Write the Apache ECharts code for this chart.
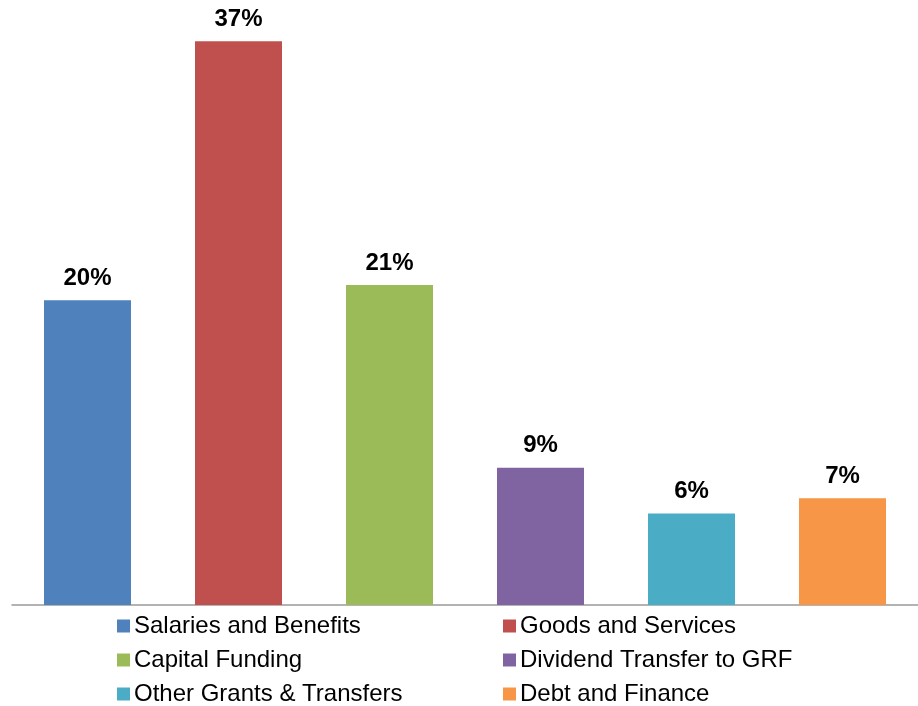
<!DOCTYPE html>
<html>
<head>
<meta charset="utf-8">
<script src="https://cdn.jsdelivr.net/npm/echarts@6/dist/echarts.min.js"></script>
<style>
  html, body { margin: 0; padding: 0; background: #fff; }
  #chart { width: 918px; height: 706px; }
</style>
</head>
<body>
<div id="chart"></div>
<script>
var categories = ['Salaries and Benefits', 'Goods and Services', 'Capital Funding',
  'Dividend Transfer to GRF', 'Other Grants & Transfers', 'Debt and Finance'];
var values = [20, 37, 21, 9, 6, 7];
var colors = ['#4F81BD', '#C0504D', '#9BBB59', '#8064A2', '#4BACC6', '#F79646'];
var leftColumn = ['Salaries and Benefits', 'Capital Funding', 'Other Grants & Transfers'];
var rightColumn = ['Goods and Services', 'Dividend Transfer to GRF', 'Debt and Finance'];

// one series per category so each gets its own legend entry; stacked so they share the slot
var series = categories.map(function (name, i) {
  return {
    name: name,
    type: 'bar',
    stack: 'all',
    barWidth: 87,
    itemStyle: { color: colors[i] },
    label: {
      show: true,
      position: 'top',
      distance: 10,
      formatter: '{c}%',
      fontFamily: 'Liberation Sans, Arial, sans-serif',
      fontSize: 24,
      fontWeight: 'bold',
      color: '#000'
    },
    data: values.map(function (v, j) { return j === i ? v : '-'; })
  };
});

var legendBase = {
  orient: 'vertical',
  top: 614,
  height: 110,
  padding: 0,
  itemWidth: 13,
  itemHeight: 13,
  itemGap: 10,
  icon: 'rect',
  selectedMode: false,
  textStyle: {
    fontFamily: 'Liberation Sans, Arial, sans-serif',
    fontSize: 24,
    lineHeight: 24,
    color: '#000',
    padding: [0, 0, 0, -1]
  }
};

var chart = echarts.init(document.getElementById('chart'));
chart.setOption({
  animation: false,
  grid: { left: 12, right: 0, top: 0, height: 605 },
  legend: [
    Object.assign({}, legendBase, { left: 117, data: leftColumn }),
    Object.assign({}, legendBase, { left: 503, data: rightColumn })
  ],
  xAxis: {
    type: 'category',
    data: categories,
    axisLine: { lineStyle: { color: '#9a9a9a', width: 1.5 } },
    axisTick: { show: false },
    axisLabel: { show: false }
  },
  yAxis: {
    type: 'value',
    min: 0,
    max: 39.7,
    show: false,
    splitLine: { show: false }
  },
  series: series
});
</script>
</body>
</html>
